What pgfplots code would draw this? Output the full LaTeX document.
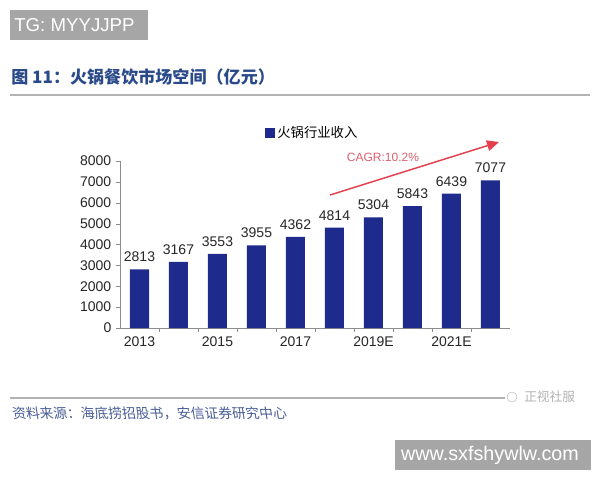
\documentclass[border=0pt]{standalone}
\usepackage{fontspec}
\setmainfont{Liberation Sans}
\newfontfamily\cjk{Noto Sans CJK SC}
\usepackage{pgfplots}
\pgfplotsset{compat=1.18}
\usetikzlibrary{arrows.meta}
\definecolor{barblue}{HTML}{1E2A8C}
\definecolor{titleblue}{HTML}{2A4A8A}
\definecolor{srcblue}{HTML}{4A5E96}
\definecolor{boxgray}{HTML}{A6A6A6}
\definecolor{axgray}{HTML}{8C8C8C}
\definecolor{arrred}{HTML}{E5404E}
\definecolor{cagr}{HTML}{E0606E}

\begin{document}
\begin{tikzpicture}
\begin{scope}[x=0.75pt,y=-0.75pt]
\useasboundingbox[fill=white] (0,0) rectangle (600,480);
% watermark boxes
\fill[boxgray] (10,10) rectangle (148,40);
\node[anchor=west,text=white,inner sep=0,font=\fontsize{14}{14}\selectfont] at (14,25) {TG: MYYJJPP};
\fill[boxgray] (395,440) rectangle (591,470);
\node[text=white,inner sep=0,font=\fontsize{14.8}{15}\selectfont] at (490,455) {www.sxfshywlw.com};
% title
\node[anchor=west,text=titleblue,inner sep=0,font=\cjk\bfseries\fontsize{12.8}{13}\selectfont] at (11,77) {图 11：火锅餐饮市场空间（亿元）};
\draw[line width=1.5pt,gray!60] (10,95) -- (590,95);
% source
\draw[line width=1.2pt,gray!60] (10,398) -- (505,398);
\node[anchor=west,text=gray!60,inner sep=0,font=\cjk\fontsize{9.5}{10}\selectfont] at (524,397) {正视社服};
\draw[gray!50] (512,397) circle (5);
\node[anchor=west,text=srcblue,inner sep=0,font=\cjk\fontsize{10.3}{11}\selectfont,xslant=-0.15] at (12,413) {资料来源：海底捞招股书，安信证券研究中心};
% CAGR arrow
\draw[arrred,line width=1.1pt,-{Triangle[length=9pt,width=8pt]}] (330,195) -- (499,142);
\node[text=cagr,inner sep=0,font=\fontsize{9}{10}\selectfont] at (383,157) {CAGR:10.2\%};
\end{scope}
\begin{axis}[
  at={(90pt,-246pt)}, anchor=south west, scale only axis,
  width=292.5pt, height=125.25pt,
  xmin=-0.5, xmax=9.5, ymin=0, ymax=8000,
  axis x line=bottom, axis y line=left,
  axis line style={-, axgray},
  xtick={0,2,4,6,8}, xticklabels={2013,2015,2017,2019E,2021E},
  major x tick style={draw=none},
  minor xtick={0.5,1.5,...,8.5},
  minor x tick style={axgray},
  ytick={0,1000,...,8000},
  y tick style={axgray},
  tick align=outside, major tick length=3pt, minor tick length=3pt,
  /pgf/number format/assume math mode=true,
  /pgf/number format/1000 sep={},
  ticklabel style={font=\fontsize{10.5}{12}\selectfont, text=black!85},
  bar width=14.25pt,
  nodes near coords,
  nodes near coords style={font=\fontsize{10.5}{12}\selectfont, text=black!85, /pgf/number format/1000 sep={}, /pgf/number format/assume math mode=true, yshift=2pt},
  clip=false,
  legend style={at={(0.372,1.168)}, anchor=west, draw=none, fill=none,
    font=\cjk\fontsize{10}{11}\selectfont, inner sep=0pt},
  legend image code/.code={\fill[barblue] (0pt,-3.5pt) rectangle (7pt,3.5pt);},
]
\addplot[ybar, fill=barblue, draw=none] coordinates {
  (0,2813) (1,3167) (2,3553) (3,3955) (4,4362)
  (5,4814) (6,5304) (7,5843) (8,6439) (9,7077)};
\addlegendentry{火锅行业收入}
\end{axis}
\end{tikzpicture}
\end{document}
